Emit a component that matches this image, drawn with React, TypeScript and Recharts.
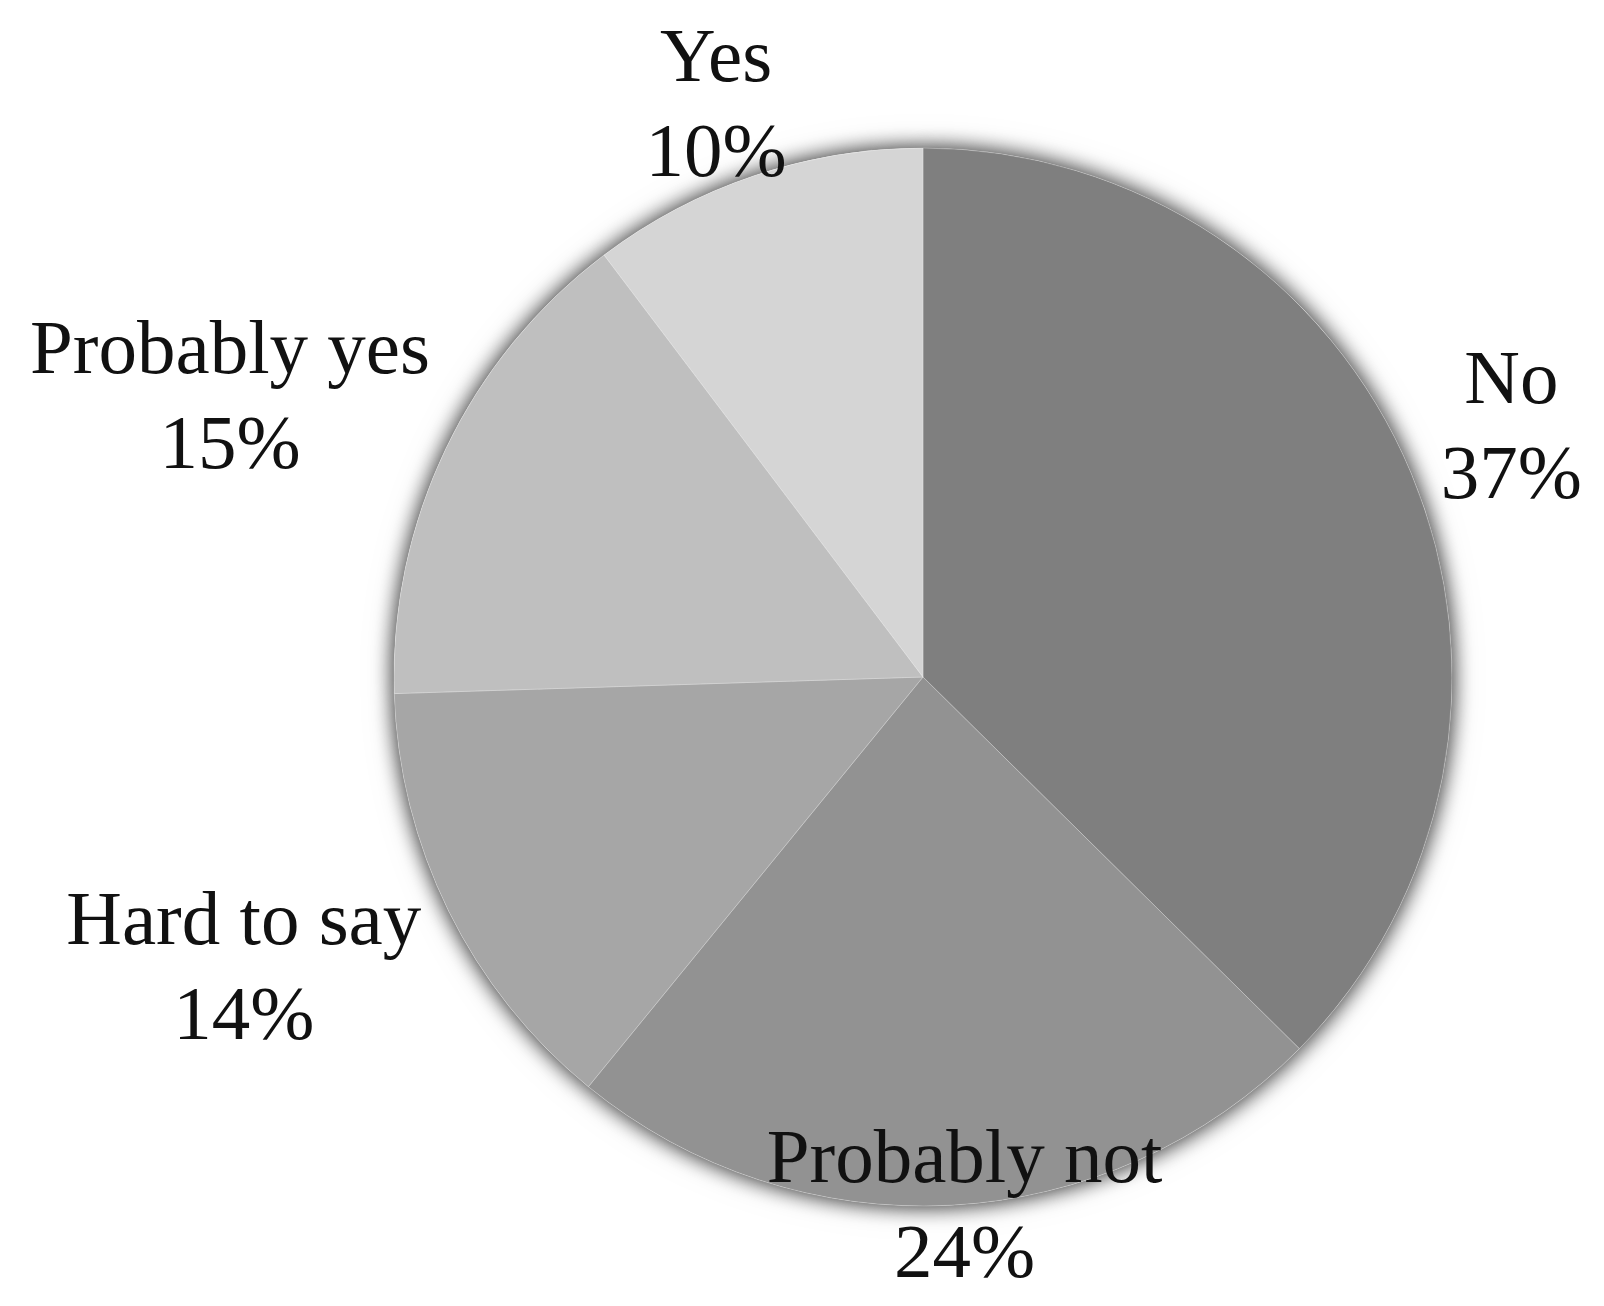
import { Cell, Pie, PieChart } from "recharts";

const categories = ["No", "Probably not", "Hard to say", "Probably yes", "Yes"];
const shares = [37.4, 23.5, 13.6, 15.2, 10.3];
const shades = ["#7f7f7f", "#929292", "#a6a6a6", "#bfbfbf", "#d5d5d5"];

const data = categories.map((name, i) => ({ name, value: shares[i] }));

const W = 1604;
const H = 1306;
const FONT = 77;
const FAMILY = '"Liberation Serif", "Times New Roman", serif';
const LINE = 95;
const CAP = 51;
const GAP = 51;

let ctx: CanvasRenderingContext2D | null = null;
function textWidth(s: string) {
  if (!ctx) {
    ctx = document.createElement("canvas").getContext("2d");
    if (ctx) ctx.font = `${FONT}px ${FAMILY}`;
  }
  return ctx ? ctx.measureText(s).width : s.length * FONT * 0.45;
}

// outside labels, box pushed out along the slice middle and kept inside the chart
function renderLabel(props: any) {
  const { cx, cy, midAngle, outerRadius, name, value } = props;
  const rad = (-midAngle * Math.PI) / 180;
  const ux = Math.cos(rad);
  const uy = Math.sin(rad);
  const pct = `${Math.round(value)}%`;
  const halfW = Math.max(textWidth(name), textWidth(pct)) / 2;
  const halfH = (CAP + LINE) / 2;
  const R = outerRadius + GAP;
  let lx = cx + R * ux + halfW * ux;
  let ly = cy + R * uy + halfH * uy;
  lx = Math.min(Math.max(lx, halfW + 30), W - halfW - 22);
  ly = Math.min(Math.max(ly, halfH + 30), H - halfH - 29);
  const base = ly - halfH + CAP;
  return (
    <text
      x={lx}
      y={base}
      textAnchor="middle"
      fill="#111"
      fontSize={FONT}
      fontFamily={FAMILY}
    >
      <tspan x={lx} y={base}>
        {name}
      </tspan>
      <tspan x={lx} y={base + LINE}>
        {pct}
      </tspan>
    </text>
  );
}

export default function App() {
  return (
    <div style={{ position: "absolute", left: 0, top: 0, background: "#fff" }}>
      <style>{`.pie-shadow { filter: drop-shadow(0px 0px 10px rgba(0,0,0,0.5)); }`}</style>
      <PieChart width={W} height={H} margin={{ top: 0, right: 0, bottom: 0, left: 0 }}>
        <Pie
          className="pie-shadow"
          data={data}
          dataKey="value"
          nameKey="name"
          cx={923}
          cy={677}
          outerRadius={529}
          startAngle={90}
          endAngle={-270}
          stroke="none"
          fill="#fff"
          isAnimationActive={false}
          label={false}
          labelLine={false}
        />
        <Pie
          data={data}
          dataKey="value"
          nameKey="name"
          cx={923}
          cy={677}
          outerRadius={529}
          startAngle={90}
          endAngle={-270}
          stroke="rgba(255,255,255,0.25)"
          strokeWidth={1}
          isAnimationActive={false}
          label={renderLabel}
          labelLine={false}
        >
          {data.map((d, i) => (
            <Cell key={d.name} fill={shades[i]} />
          ))}
        </Pie>
      </PieChart>
    </div>
  );
}
